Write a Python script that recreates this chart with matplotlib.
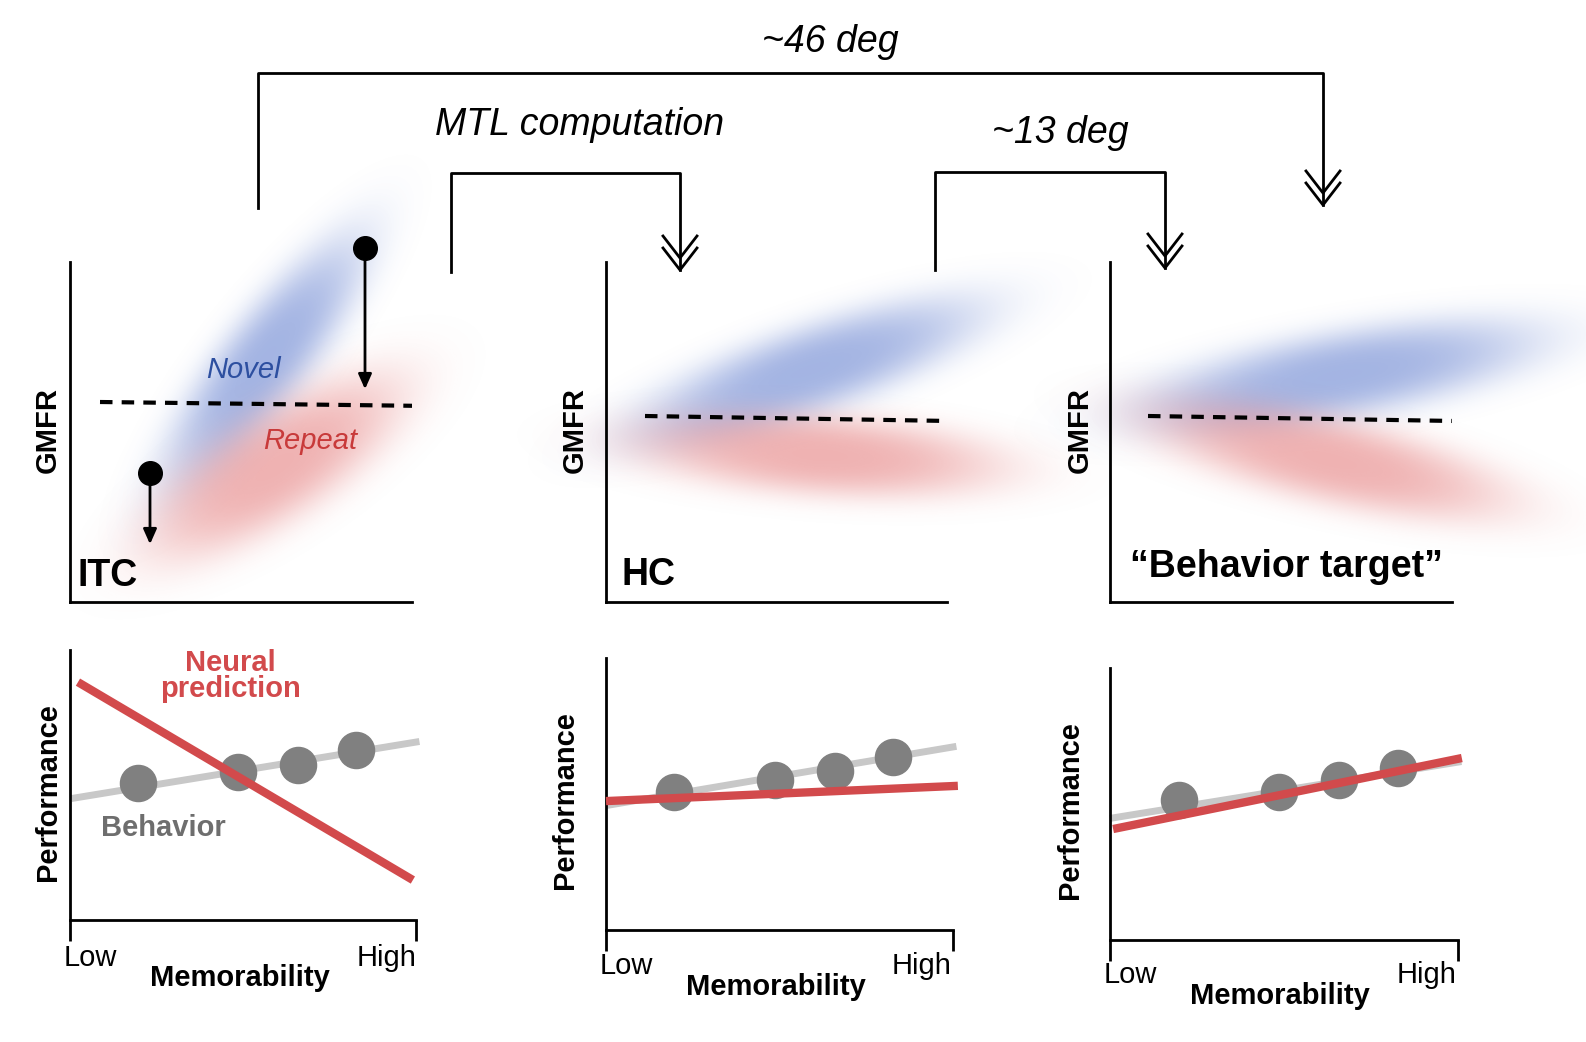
import matplotlib.pyplot as plt
import numpy as np

plt.rcParams["font.family"] = ["Liberation Sans", "DejaVu Sans"]

W, H = 1586, 1042
BLUE = (0.35, 0.47, 0.80)
RED = (0.88, 0.40, 0.40)
LINE_RED = "#d24a4c"
GRAY = "#808080"

# top panels: blobs (cx, cy, length, width, angle) in panel pixel units
itc_novel = (195, 242, 300, 85, 52)
itc_repeat = (205, 135, 290, 105, 33)
hc_novel = (204, 232, 350, 85, 19)
hc_repeat = (214, 147, 360, 80, -4)
bt_novel = (230, 227, 390, 85, 10)
bt_repeat = (220, 142, 360, 85, -13)
# dashed thresholds (x0, y0, x1, y1)
itc_dash = (30, 200, 360, 196)
hc_dash = (39, 186, 344, 181)
bt_dash = (38, 186, 345, 181)

# bottom panels
mem_x = [0.197, 0.486, 0.659, 0.827]
itc_behavior = [0.507, 0.548, 0.574, 0.630]
hc_behavior = [0.507, 0.551, 0.585, 0.636]
bt_behavior = [0.515, 0.544, 0.588, 0.632]
itc_gray = ([0.014, 1.0], [0.452, 0.659])
hc_gray = ([0.012, 1.0], [0.460, 0.673])
bt_gray = ([0.009, 1.0], [0.449, 0.654])
itc_neural = ([0.023, 0.991], [0.881, 0.148])
hc_neural = ([0.0, 1.014], [0.474, 0.530])
bt_neural = ([0.009, 1.011], [0.408, 0.669])


def fig_rect(x0, y0, x1, y1):
    return [x0 / W, (H - y1) / H, (x1 - x0) / W, (y1 - y0) / H]


def blob(ax, params, color, amax=0.55):
    cx, cy, L, Wd, ang = params
    xs = np.linspace(cx - L, cx + L, 300)
    ys = np.linspace(cy - L, cy + L, 300)
    X, Y = np.meshgrid(xs, ys)
    t = np.deg2rad(ang)
    u = (X - cx) * np.cos(t) + (Y - cy) * np.sin(t)
    v = -(X - cx) * np.sin(t) + (Y - cy) * np.cos(t)
    r = np.sqrt((u / (L / 2)) ** 2 + (v / (Wd / 2)) ** 2)
    a = amax * np.exp(-r ** 3)
    img = np.zeros(X.shape + (4,))
    img[..., :3] = color
    img[..., 3] = a
    ax.imshow(img, extent=(xs[0], xs[-1], ys[0], ys[-1]), origin="lower",
              interpolation="bilinear", clip_on=False, zorder=1)


def style(ax):
    for s in ["top", "right"]:
        ax.spines[s].set_visible(False)
    for s in ["left", "bottom"]:
        ax.spines[s].set_linewidth(2)


fig = plt.figure(figsize=(W / 100, H / 100), dpi=100)

tops = [
    ((70, 262, 412, 602), itc_novel, itc_repeat, itc_dash),
    ((606, 262, 947, 602), hc_novel, hc_repeat, hc_dash),
    ((1110, 262, 1452, 602), bt_novel, bt_repeat, bt_dash),
]
top_axes = []
for rect, nov, rep, dash in tops:
    ax = fig.add_axes(fig_rect(*rect))
    blob(ax, nov, BLUE)
    blob(ax, rep, RED, 0.5)
    ax.plot([dash[0], dash[2]], [dash[1], dash[3]], "k", ls=(0, (3, 2.2)), lw=3, zorder=3)
    ax.set_xticks([])
    ax.set_yticks([])
    style(ax)
    ax.set_xlim(0, rect[2] - rect[0])
    ax.set_ylim(0, rect[3] - rect[1])
    ax.set_aspect("auto")
    top_axes.append(ax)

# ITC dots and arrows
a0 = top_axes[0]
for x, y0, y1 in [(295, 354, 210), (80, 129, 55)]:
    a0.plot(x, y0, "o", color="k", ms=17, zorder=5, clip_on=False)
    a0.annotate("", xy=(x, y1), xytext=(x, y0), zorder=5, annotation_clip=False,
                arrowprops=dict(arrowstyle="-|>,head_length=0.9,head_width=0.4", color="k", lw=2))

bottoms = [
    ((70, 650, 416, 920), itc_behavior, itc_gray, itc_neural),
    ((606, 658, 953, 930), hc_behavior, hc_gray, hc_neural),
    ((1110, 668, 1458, 940), bt_behavior, bt_gray, bt_neural),
]
for rect, beh, gr, neu in bottoms:
    ax = fig.add_axes(fig_rect(*rect))
    ax.set_xlim(0, 1)
    ax.set_ylim(0, 1)
    ax.plot(gr[0], gr[1], color="#c8c8c8", lw=5, zorder=2, clip_on=False)
    ax.plot(mem_x, beh, "o", color=GRAY, ms=26, zorder=3, clip_on=False)
    ax.plot(neu[0], neu[1], color=LINE_RED, lw=6, zorder=4, clip_on=False, solid_capstyle="butt")
    ax.set_xticks([0, 1])
    ax.set_xticklabels([])
    ax.tick_params(axis="x", direction="out", length=15, width=2)
    ax.set_yticks([])
    style(ax)

# overlay for text and brackets
ov = fig.add_axes([0, 0, 1, 1], zorder=10)
ov.set_xlim(0, W)
ov.set_ylim(H, 0)
ov.axis("off")
ov.patch.set_alpha(0)


def bracket(x0, y_start, ytop, x1, y_end):
    ov.plot([x0, x0, x1, x1], [y_start, ytop, ytop, y_end], "k", lw=2)
    for dy in (0, -12):
        ov.plot([x1 - 17, x1, x1 + 17], [y_end - 22 + dy, y_end + dy, y_end - 22 + dy], "k", lw=2)


bracket(258, 208, 73, 1323, 205)
bracket(451, 272, 173, 680, 270)
bracket(935, 270, 172, 1165, 268)

it = dict(style="italic", fontsize=27, ha="center", va="center")
ov.text(830, 42, "~46 deg", **it)
ov.text(580, 125, "MTL computation", **it)
ov.text(1060, 133, "~13 deg", **it)

ov.text(243, 370, "Novel", color="#2d4fa0", style="italic", fontsize=21, ha="center", va="center")
ov.text(310, 441, "Repeat", color="#c83a3a", style="italic", fontsize=21, ha="center", va="center")

bold = dict(fontweight="bold", ha="left", va="center", fontsize=27)
ov.text(78, 576, "ITC", **bold)
ov.text(622, 575, "HC", **bold)
ov.text(1130, 567, "\u201cBehavior target\u201d", **bold)

for x in (48, 575, 1080):
    ov.text(x, 430, "GMFR", rotation=90, fontweight="bold", fontsize=21, ha="center", va="center")
for x, y in ((48, 792), (565, 800), (1070, 810)):
    ov.text(x, y, "Performance", rotation=90, fontweight="bold", fontsize=21, ha="center", va="center")

ov.text(230, 676, "Neural\nprediction", color=LINE_RED, fontweight="bold", fontsize=21,
        ha="center", va="center", linespacing=0.95)
ov.text(163, 828, "Behavior", color="#6e6e6e", fontweight="bold", fontsize=21, ha="center", va="center")

for xm, ym, xl, xh, yl in ((240, 978, 90, 387, 958), (776, 987, 626, 922, 966), (1280, 996, 1130, 1427, 975)):
    ov.text(xm, ym, "Memorability", fontweight="bold", fontsize=21, ha="center", va="center")
    ov.text(xl, yl, "Low", fontsize=21, ha="center", va="center")
    ov.text(xh, yl, "High", fontsize=21, ha="center", va="center")

fig.savefig("out.png", dpi=100)
